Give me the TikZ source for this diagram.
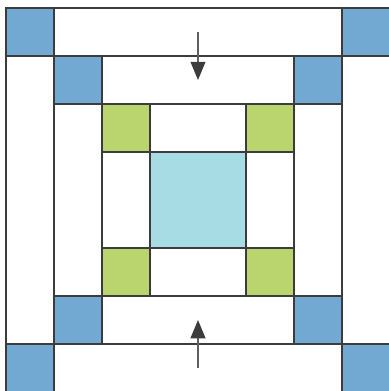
\documentclass[tikz,border=0pt]{standalone}
\usepackage{tikz}
\usetikzlibrary{arrows.meta}
\definecolor{qBlue}{RGB}{114, 169, 211}
\definecolor{qGreen}{RGB}{187, 213, 110}
\definecolor{qCyan}{RGB}{168, 220, 229}
\definecolor{qLine}{RGB}{60, 60, 62}
\definecolor{qArrow}{RGB}{95, 95, 95}

\begin{document}
\begin{tikzpicture}[x=1cm, y=-1cm,
    patch/.style={draw=qLine, line width=0.8pt},
    press/.style={qArrow, line width=0.8pt, -{Triangle[length=0.38cm, width=0.31cm, color=qLine]}}]
  \useasboundingbox (-0.125,-0.167) rectangle (7.979,7.979);

  % Rings
  \foreach \a/\c [evaluate=\a as \b using 8-\a] in {0/qBlue, 1/qBlue, 2/qGreen} {
    \draw[patch] (\a,\a) rectangle (\b,\b);
    \draw[patch] (\a+1,\a+1) rectangle (\b-1,\b-1);
    \draw[patch, fill=\c] (\a,\a) rectangle (\a+1,\a+1);
    \draw[patch, fill=\c] (\b-1,\a) rectangle (\b,\a+1);
    \draw[patch, fill=\c] (\a,\b-1) rectangle (\a+1,\b);
    \draw[patch, fill=\c] (\b-1,\b-1) rectangle (\b,\b);
  }

  % Centre
  \draw[patch, fill=qCyan] (3,3) rectangle (5,5);

  % Arrows
  \coordinate (topTail) at (4,0.5);
  \coordinate (topTip) at (4,1.5);
  \coordinate (botTail) at (4,7.5);
  \coordinate (botTip) at (4,6.5);
  \draw[press] (topTail) -- (topTip);
  \draw[press] (botTail) -- (botTip);
\end{tikzpicture}
\end{document}
